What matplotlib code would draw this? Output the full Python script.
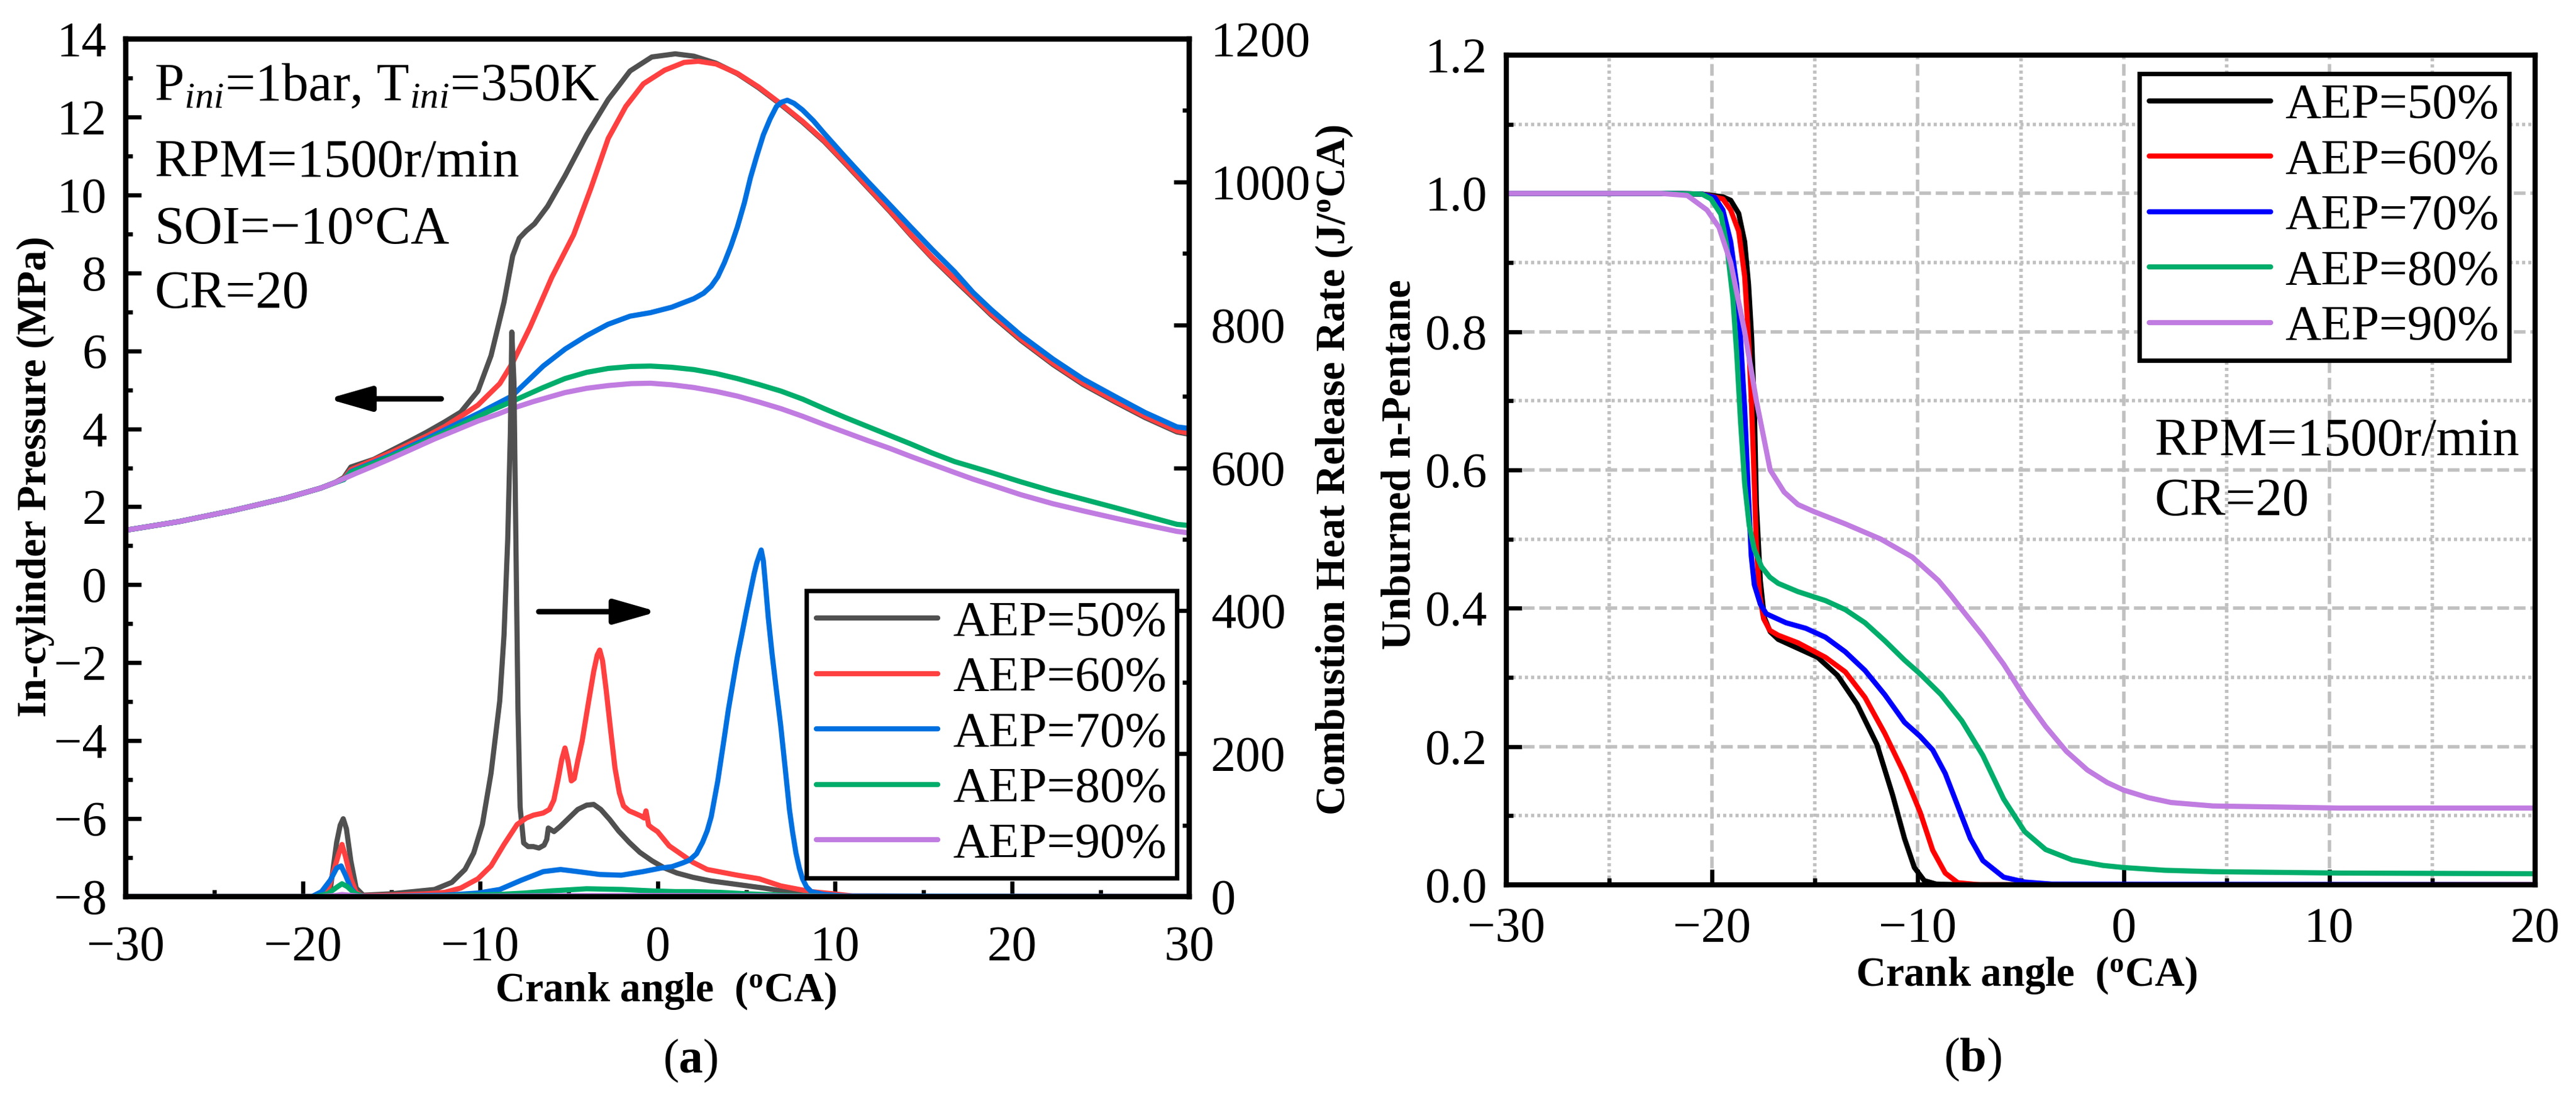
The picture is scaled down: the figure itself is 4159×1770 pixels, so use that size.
import matplotlib
matplotlib.use("Agg")
import matplotlib.pyplot as plt
from matplotlib.ticker import MultipleLocator, FormatStrFormatter

plt.rcParams["font.family"] = ["Liberation Serif", "DejaVu Serif"]
plt.rcParams["mathtext.fontset"] = "custom"
plt.rcParams["mathtext.rm"] = "Liberation Serif"
plt.rcParams["mathtext.it"] = "Liberation Serif:italic"
plt.rcParams["mathtext.bf"] = "Liberation Serif:bold"

labels = ["AEP=50%", "AEP=60%", "AEP=70%", "AEP=80%", "AEP=90%"]
colors_a = ["#505050", "#ff4040", "#0070e0", "#00ad6b", "#c07ce0"]
colors_b = ["#000000", "#ff0000", "#0000ff", "#00ad6b", "#c07ce0"]

# ---- (a) in-cylinder pressure, MPa ----
p_early_x = [-30, -27, -24, -21, -19, -18.2]
p_early_y = [1.40, 1.62, 1.90, 2.22, 2.48, 2.62]

p50_x = [-17.7, -17.3, -16, -15, -14, -13, -12, -11.1, -10.13, -9.39, -8.66, -8.17, -7.8, -7.4, -6.94,
         -6.2, -5.22, -4.0, -2.78, -1.55, -0.32, 1.0, 2.05, 3.3, 4.5, 5.7, 6.95, 8.2, 9.4, 10.6, 11.85,
         13.1, 14.3, 15.5, 16.76, 17.8, 18.82, 20.5, 22.31, 24.0, 25.81, 27.5, 29.3, 30]
p50_y = [2.75, 3.02, 3.22, 3.45, 3.68, 3.92, 4.18, 4.43, 4.97, 5.88, 7.25, 8.44, 8.89, 9.08, 9.26,
         9.71, 10.49, 11.54, 12.45, 13.18, 13.54, 13.62, 13.56, 13.38, 13.11, 12.75, 12.32, 11.86, 11.37, 10.8, 10.19,
         9.58, 8.96, 8.38, 7.82, 7.37, 6.92, 6.27, 5.65, 5.14, 4.69, 4.29, 3.92, 3.86]

p60_x = [-17.7, -17.3, -15, -13, -12, -11, -10.13, -8.9, -8.17, -7.19, -5.96, -4.73, -3.76, -2.78,
         -1.79, -0.8, 0.4, 1.5, 2.3, 3.3, 4.5, 5.7, 6.95, 8.2, 9.4, 10.6, 11.85, 13.1, 14.3, 15.5, 16.76,
         17.8, 18.82, 20.5, 22.31, 24.0, 25.81, 27.5, 29.3, 30]
p60_y = [2.72, 2.95, 3.4, 3.82, 4.06, 4.35, 4.61, 5.16, 5.70, 6.61, 7.89, 8.98, 10.17, 11.45,
         12.27, 12.85, 13.2, 13.4, 13.43, 13.36, 13.12, 12.77, 12.34, 11.88, 11.39, 10.82, 10.21, 9.6, 8.98, 8.4, 7.85,
         7.4, 6.95, 6.3, 5.68, 5.17, 4.72, 4.32, 3.95, 3.89]

p70_x = [-17.7, -17.3, -15, -13, -11, -10, -8.22, -6.45, -5.2, -4.0, -2.8, -1.55, -0.4, 0.8, 2.05,
         2.6, 3.03, 3.4, 3.77, 4.15, 4.5, 4.9, 5.24, 5.6, 5.97, 6.35, 6.71, 7.0, 7.32, 7.7, 8.18, 8.8,
         9.4, 10.6, 11.85, 13.1, 14.3, 15.5, 16.76, 17.8, 18.82, 20.5, 22.31, 24.0, 25.81, 27.5, 29.3, 30]
p70_y = [2.7, 2.9, 3.33, 3.75, 4.2, 4.42, 4.84, 5.61, 6.05, 6.39, 6.68, 6.89, 6.98, 7.12, 7.34,
         7.48, 7.66, 7.9, 8.26, 8.7, 9.17, 9.8, 10.44, 11.0, 11.54, 11.95, 12.27, 12.38, 12.43, 12.35, 12.18, 11.9,
         11.58, 10.97, 10.35, 9.75, 9.17, 8.6, 8.03, 7.5, 7.06, 6.4, 5.79, 5.28, 4.83, 4.42, 4.05, 4.01]

p80_x = [-17.7, -17.3, -15, -13, -11, -9.5, -8.22, -6.5, -5.22, -4.0, -2.78, -1.5, -0.4, 0.8, 2.05,
         3.3, 4.5, 5.7, 6.95, 8.2, 9.4, 10.6, 11.85, 13.1, 14.3, 15.5, 16.76, 17.8, 18.82, 20.5, 22.3,
         24.06, 25.8, 27.5, 29.3, 30]
p80_y = [2.7, 2.88, 3.3, 3.7, 4.12, 4.45, 4.70, 5.05, 5.29, 5.45, 5.55, 5.6, 5.61, 5.58, 5.52,
         5.42, 5.29, 5.14, 4.97, 4.76, 4.52, 4.29, 4.06, 3.83, 3.61, 3.38, 3.16, 3.02, 2.88, 2.64, 2.40,
         2.19, 1.98, 1.77, 1.55, 1.52]

p90_x = [-17.7, -17, -16, -15.03, -14, -12.58, -11.3, -10.13, -9, -8.22, -7, -5.22, -4.0, -2.78, -1.5,
         -0.4, 0.8, 2.05, 3.3, 4.5, 5.7, 6.95, 8.2, 9.4, 10.6, 11.85, 13.1, 14.3, 15.5, 16.76, 17.8,
         18.82, 20.5, 22.3, 24.06, 25.8, 27.5, 29.3, 30]
p90_y = [2.72, 2.86, 3.05, 3.24, 3.45, 3.74, 3.98, 4.20, 4.38, 4.52, 4.7, 4.93, 5.04, 5.11, 5.16,
         5.17, 5.13, 5.06, 4.96, 4.84, 4.69, 4.52, 4.32, 4.11, 3.91, 3.70, 3.50, 3.29, 3.09, 2.88, 2.71,
         2.56, 2.31, 2.08, 1.89, 1.71, 1.54, 1.37, 1.33]

# ---- (a) heat release rate, J/oCA ----
h50_x = [-30, -19.5, -18.7, -18.46, -18.1, -17.9, -17.73, -17.55, -17.3, -17.0, -16.6, -15, -12.58,
         -11.6, -10.86, -10.37, -9.88, -9.39, -8.9, -8.66, -8.45, -8.3, -8.22, -8.1, -7.98, -7.87, -7.75,
         -7.55, -7.3, -7.0, -6.69, -6.4, -6.25, -6.16, -5.84, -5.5, -5.0, -4.5, -4.0, -3.6, -3.2, -2.7,
         -2.2, -1.6, -1.0, -0.3, 0.4, 1.1, 2.0, 3.0, 4.5, 6.0, 7.0, 8.0, 9.0, 10.0, 30]
h50_y = [0, 0, 1, 10, 76, 100, 109, 95, 50, 12, 2, 4, 10,
         20, 38, 61, 101, 173, 274, 366, 500, 650, 790, 720, 480, 260, 125,
         75, 70, 70, 68, 72, 80, 96, 91, 98, 110, 122, 128, 129, 122, 108,
         92, 76, 62, 50, 40, 33, 27, 22, 17, 12, 8, 4, 2, 0, 0]

h60_x = [-30, -19.3, -18.6, -18.34, -17.97, -17.8, -17.6, -17.3, -17.0, -16.7, -15, -13, -12, -11.1,
         -10.13, -9.39, -8.66, -7.92, -7.4, -7.0, -6.45, -6.1, -5.85, -5.6, -5.4, -5.22, -5.05, -4.86,
         -4.7, -4.5, -4.25, -3.88, -3.6, -3.4, -3.26, -3.1, -2.9, -2.65, -2.4, -2.15, -1.92, -1.6, -1.31,
         -0.95, -0.75, -0.65, -0.5, -0.3, 0.0, 0.66, 1.3, 2.0, 2.8, 4.5, 5.73, 6.95, 8.0, 8.67, 9.9, 11, 30]
h60_y = [0, 0, 8, 30, 61, 73, 56, 25, 6, 1, 2, 4, 6, 12,
         25, 43, 73, 101, 110, 114, 117, 122, 135, 165, 192, 208, 190, 162,
         165, 190, 218, 274, 315, 338, 345, 330, 290, 234, 180, 145, 127, 120, 117,
         113, 110, 120, 100, 96, 91, 71, 60, 48, 38, 30, 25, 15, 10, 7, 4, 1, 0]

h70_x = [-30, -19.5, -18.95, -18.46, -18.1, -17.85, -17.6, -17.3, -17.0, -16.5, -12, -10.13, -8.9,
         -7.68, -6.45, -5.47, -4.49, -3.26, -2.04, -0.82, 0.2, 0.82, 1.4, 1.8, 2.2, 2.54, 2.8, 3.03, 3.2,
         3.4, 3.6, 3.77, 4.0, 4.26, 4.5, 4.75, 5.0, 5.24, 5.45, 5.6, 5.75, 5.85, 5.97, 6.09, 6.25, 6.46,
         6.7, 6.95, 7.2, 7.44, 7.62, 7.81, 8.0, 8.18, 8.4, 8.67, 9.4, 10.5, 30]
h70_y = [0, 0, 7, 23, 40, 43, 30, 12, 3, 0, 2, 5, 10,
         23, 35, 38, 35, 31, 30, 35, 40, 42, 47, 51, 60, 76, 92, 112, 135,
         162, 195, 223, 262, 300, 335, 366, 398, 427, 452, 467, 478, 485, 470, 437, 390, 340,
         290, 239, 180, 122, 90, 61, 40, 25, 14, 7, 3, 1, 0]

h80_x = [-30, -19.3, -18.6, -18.1, -17.8, -17.5, -17.1, -16.6, -12, -9, -7.5, -6, -4, -2, -0.3, 1,
         2, 3.5, 5, 7, 9, 11, 30]
h80_y = [0, 0, 4, 13, 18, 14, 5, 0, 1, 3, 5, 8, 11, 10, 8, 7, 7, 6, 4, 2, 1, 0, 0]

h90_x = [-30, -19, -18.2, -17.8, -17.4, -16.8, -10, -4, 0, 6, 12, 30]
h90_y = [0, 0, 1.5, 3, 2, 0.5, 0.5, 1.5, 1.5, 1, 0, 0]

# ---- (b) unburned n-pentane fraction ----
b50_x = [-30, -22, -20.5, -19.48, -19.1, -18.71, -18.42, -18.23, -18.08, -17.95, -17.85, -17.66,
         -17.47, -17.18, -16.79, -15.83, -14.87, -13.91, -12.95, -11.99, -11.23, -10.65, -10.17, -9.69,
         -9.11, -8.0, 20]
b50_y = [1.0, 1.0, 0.999, 0.995, 0.99, 0.971, 0.930, 0.868, 0.791, 0.689, 0.55, 0.44,
         0.387, 0.366, 0.355, 0.342, 0.329, 0.303, 0.261, 0.203, 0.130, 0.067, 0.025, 0.006,
         0.001, 0.0, 0.0]

b60_x = [-30, -22, -20.5, -19.48, -19.1, -18.71, -18.42, -18.23, -18.08, -17.95, -17.85, -17.7,
         -17.5, -17.2, -16.79, -15.83, -14.49, -13.53, -12.57, -11.61, -10.65, -9.89, -9.28, -8.67,
         -8.06, -7.0, 20]
b60_y = [1.0, 1.0, 0.999, 0.992, 0.976, 0.945, 0.88, 0.79, 0.69, 0.58, 0.49, 0.42,
         0.385, 0.368, 0.361, 0.35, 0.329, 0.308, 0.271, 0.219, 0.16, 0.105, 0.05, 0.017,
         0.003, 0.0, 0.0]

b70_x = [-30, -22, -20.5, -19.87, -19.48, -19.1, -18.81, -18.62, -18.42, -18.23, -18.1, -17.95,
         -17.66, -17.37, -16.41, -15.45, -14.49, -13.53, -12.57, -11.61, -10.65, -9.9, -9.28, -8.67,
         -8.06, -7.45, -6.84, -5.83, -4.81, -3.5, 20]
b70_y = [1.0, 1.0, 0.999, 0.994, 0.976, 0.93, 0.868, 0.791, 0.689, 0.56, 0.476, 0.434,
         0.406, 0.392, 0.379, 0.371, 0.358, 0.337, 0.31, 0.275, 0.235, 0.215, 0.195, 0.161,
         0.114, 0.067, 0.035, 0.011, 0.004, 0.001, 0.0]

b80_x = [-30, -22, -20.5, -20.06, -19.58, -19.29, -19.0, -18.81, -18.62, -18.42, -18.2, -17.95,
         -17.6, -17.2, -16.79, -15.83, -14.49, -13.53, -12.57, -11.61, -10.65, -9.89, -8.87, -7.86,
         -6.84, -5.83, -4.81, -3.79, -2.5, -1.0, 0.0, 2.0, 4.34, 10.44, 20]
b80_y = [1.0, 1.0, 0.999, 0.992, 0.97, 0.925, 0.85, 0.77, 0.67, 0.58, 0.52, 0.485,
         0.46, 0.445, 0.436, 0.424, 0.411, 0.398, 0.379, 0.353, 0.325, 0.305, 0.275, 0.237,
         0.187, 0.124, 0.077, 0.051, 0.036, 0.028, 0.025, 0.021, 0.019, 0.017, 0.016]

b90_x = [-30, -22.5, -21.21, -20.25, -19.67, -19.1, -18.42, -17.85, -17.18, -16.5, -15.83, -15.07,
         -13.53, -11.8, -10.27, -9.0, -8.38, -7.86, -6.84, -5.83, -4.81, -3.79, -2.78, -1.76, -0.8,
         0.0, 1.2, 2.31, 4.34, 10.44, 20]
b90_y = [1.0, 1.0, 0.997, 0.976, 0.951, 0.9, 0.8, 0.7, 0.6, 0.568, 0.55, 0.54,
         0.522, 0.5, 0.474, 0.44, 0.418, 0.398, 0.36, 0.319, 0.271, 0.229, 0.193, 0.166, 0.148,
         0.137, 0.126, 0.119, 0.114, 0.111, 0.111]

pres_x = [p_early_x + p50_x, p_early_x + p60_x, p_early_x + p70_x, p_early_x + p80_x, p_early_x + p90_x]
pres_y = [p_early_y + p50_y, p_early_y + p60_y, p_early_y + p70_y, p_early_y + p80_y, p_early_y + p90_y]
hrr_x = [h50_x, h60_x, h70_x, h80_x, h90_x]
hrr_y = [h50_y, h60_y, h70_y, h80_y, h90_y]
frac_x = [b50_x, b60_x, b70_x, b80_x, b90_x]
frac_y = [b50_y, b60_y, b70_y, b80_y, b90_y]

W, H, DPI = 4159, 1770, 200
fig = plt.figure(figsize=(W / DPI, H / DPI), dpi=DPI)

lw = 3.0
spine_w = 3.0
tick_fs = 29
lab_fs = 24

# ================= panel (a) =================
ax = fig.add_axes([0.0488, 0.1819, 0.4129, 0.7825])
ax2 = ax.twinx()

handles = []
for xs, ys, c, lab in zip(pres_x, pres_y, colors_a, labels):
    ln, = ax.plot(xs, ys, color=c, lw=lw, label=lab, solid_capstyle="round", solid_joinstyle="round")
    handles.append(ln)
for xs, ys, c in zip(hrr_x, hrr_y, colors_a):
    ax2.plot(xs, ys, color=c, lw=lw, solid_capstyle="round", solid_joinstyle="round")

ax.set_xlim(-30, 30)
ax.set_ylim(-8, 14)
ax2.set_ylim(0, 1200)
ax.xaxis.set_major_locator(MultipleLocator(10))
ax.xaxis.set_minor_locator(MultipleLocator(5))
ax.yaxis.set_major_locator(MultipleLocator(2))
ax.yaxis.set_minor_locator(MultipleLocator(1))
ax2.yaxis.set_major_locator(MultipleLocator(200))
ax2.yaxis.set_minor_locator(MultipleLocator(100))

for a in (ax, ax2):
    for s in a.spines.values():
        s.set_linewidth(spine_w)
ax.tick_params(axis="both", which="both", direction="in", width=2.4, labelsize=tick_fs,
               top=False, right=False)
ax.tick_params(which="major", length=9)
ax.tick_params(which="minor", length=3.8)
ax.tick_params(axis="y", pad=11)
ax.tick_params(axis="x", pad=17)
ax2.tick_params(axis="y", which="both", direction="in", width=2.4, labelsize=tick_fs, pad=12.5)
ax2.tick_params(which="major", length=9)
ax2.tick_params(which="minor", length=3.8)

ax.text(0.027, 0.929, "P$_{ini}$=1bar, T$_{ini}$=350K", transform=ax.transAxes, fontsize=31, va="baseline")
ax.text(0.027, 0.840, "RPM=1500r/min", transform=ax.transAxes, fontsize=31, va="baseline")
ax.text(0.027, 0.762, "SOI=\u221210\u00b0CA", transform=ax.transAxes, fontsize=31, va="baseline")
ax.text(0.027, 0.687, "CR=20", transform=ax.transAxes, fontsize=31, va="baseline")

arrow = dict(arrowstyle="-|>,head_length=1.05,head_width=0.3", mutation_scale=20,
             lw=3.2, color="black", shrinkA=0, shrinkB=0)
ax.annotate("", xy=(-18.6, 4.77), xytext=(-12.2, 4.77), arrowprops=arrow)
ax.annotate("", xy=(0.0, -0.69), xytext=(-6.7, -0.69), arrowprops=arrow)

leg_a = ax2.legend(handles=handles, loc="lower right", bbox_to_anchor=(0.988, 0.022),
                   bbox_transform=ax.transAxes, fontsize=29, handlelength=2.43,
                   handletextpad=0.3, labelspacing=0.2, borderpad=0.2, borderaxespad=0,
                   fancybox=False, framealpha=1, edgecolor="black")
leg_a.get_frame().set_linewidth(2.6)

# ================= panel (b) =================
axb = fig.add_axes([0.5848, 0.1927, 0.3993, 0.757])
for xs, ys, c, lab in zip(frac_x, frac_y, colors_b, labels):
    axb.plot(xs, ys, color=c, lw=lw, label=lab, solid_capstyle="round", solid_joinstyle="round")

axb.set_xlim(-30, 20)
axb.set_ylim(0, 1.2)
axb.xaxis.set_major_locator(MultipleLocator(10))
axb.xaxis.set_minor_locator(MultipleLocator(5))
axb.yaxis.set_major_locator(MultipleLocator(0.2))
axb.yaxis.set_minor_locator(MultipleLocator(0.1))
axb.yaxis.set_major_formatter(FormatStrFormatter("%.1f"))
axb.set_axisbelow(True)
axb.grid(which="major", color="#c0c0c0", linestyle=(0, (3.4, 1.4)), linewidth=2.0)
axb.grid(which="minor", color="#c0c0c0", linestyle=(0, (0.9, 0.9)), linewidth=2.0)
for s in axb.spines.values():
    s.set_linewidth(spine_w)
axb.tick_params(axis="both", which="both", direction="in", width=2.4, labelsize=tick_fs,
                top=False, right=False)
axb.tick_params(which="major", length=9)
axb.tick_params(which="minor", length=3.8)
axb.tick_params(axis="y", pad=11)
axb.tick_params(axis="x", pad=13)

axb.text(0.63, 0.518, "RPM=1500r/min", transform=axb.transAxes, fontsize=31, va="baseline")
axb.text(0.63, 0.4455, "CR=20", transform=axb.transAxes, fontsize=31, va="baseline")

leg_b = axb.legend(loc="upper right", bbox_to_anchor=(0.975, 0.978), fontsize=29,
                   handlelength=2.43, handletextpad=0.3, labelspacing=0.2, borderpad=0.2,
                   borderaxespad=0, fancybox=False, framealpha=1, edgecolor="black")
leg_b.get_frame().set_linewidth(2.6)

# ================= labels =================
fig.text(0.0137, 0.565, "In-cylinder Pressure (MPa)", rotation=90, ha="center", va="center",
         fontsize=lab_fs, fontweight="bold")
fig.text(0.518, 0.571, "Combustion Heat Release Rate (J/$^{\\mathregular{o}}$CA)", rotation=90,
         ha="center", va="center", fontsize=lab_fs, fontweight="bold")
fig.text(0.5434, 0.576, "Unburned n-Pentane", rotation=90, ha="center", va="center",
         fontsize=lab_fs, fontweight="bold")
fig.text(0.2585, 0.096, "Crank angle  ($^{\\mathregular{o}}$CA)", ha="center", va="center",
         fontsize=lab_fs, fontweight="bold")
fig.text(0.7867, 0.110, "Crank angle  ($^{\\mathregular{o}}$CA)", ha="center", va="center",
         fontsize=lab_fs, fontweight="bold")
fig.text(0.268, 0.032, "($\\mathbf{a}$)", ha="center", va="center", fontsize=28)
fig.text(0.7658, 0.033, "($\\mathbf{b}$)", ha="center", va="center", fontsize=28)

fig.savefig("out.png", dpi=DPI)
